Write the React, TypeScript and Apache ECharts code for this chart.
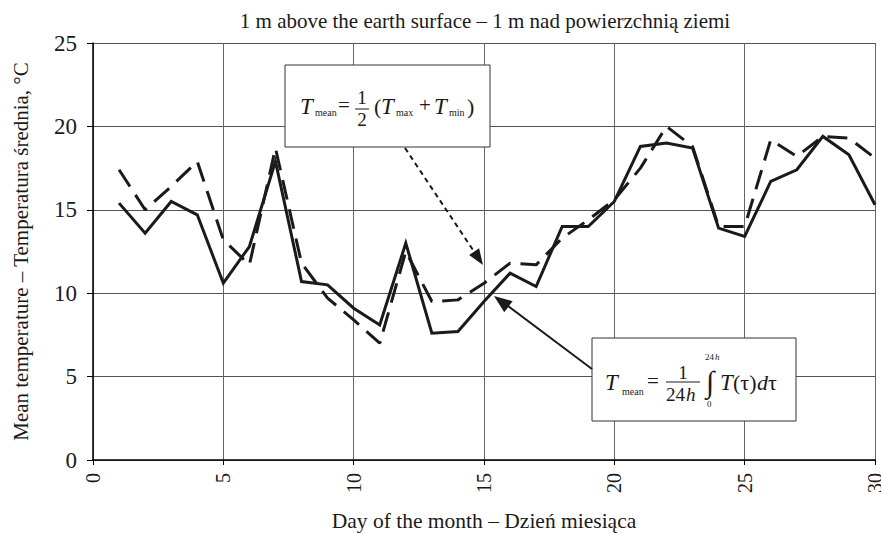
import React, { useEffect, useRef } from "react";
import * as echarts from "echarts";

const days = [1, 2, 3, 4, 5, 6, 7, 8, 9, 10, 11, 12, 13, 14, 15, 16, 17, 18, 19, 20, 21, 22, 23, 24, 25, 26, 27, 28, 29, 30];
// Solid line: T_mean = 1/24h ∫ T(τ) dτ
const meanIntegral = [15.4, 13.6, 15.5, 14.7, 10.6, 12.8, 17.9, 10.7, 10.5, 9.1, 8.1, 13.0, 7.6, 7.7, 9.5, 11.2, 10.4, 14.0, 14.0, 15.5, 18.8, 19.0, 18.7, 13.9, 13.4, 16.7, 17.4, 19.4, 18.3, 15.3];
// Dashed line: T_mean = 1/2 (T_max + T_min)
const meanMaxMin = [17.4, 15.0, 16.4, 17.9, 13.2, 11.7, 18.7, 11.8, 9.7, 8.4, 7.0, 12.5, 9.5, 9.6, 10.6, 11.8, 11.7, 13.3, 14.4, 15.6, 17.5, 20.0, 18.8, 14.0, 14.0, 19.2, 18.2, 19.4, 19.3, 18.1];

const TITLE = "1 m above the earth surface – 1 m nad powierzchnią ziemi";
const X_NAME = "Day of the month – Dzień miesiąca";
const Y_NAME = "Mean temperature – Temperatura średnia, °C";

const SERIF = '"Liberation Serif", "Times New Roman", serif';
const INK = "#1a1a1a";

function tx(x: number, y: number, text: string, size: number, italic = false, align = "left") {
  return {
    type: "text",
    x,
    y,
    z: 20,
    style: {
      text,
      fontSize: size,
      fontFamily: SERIF,
      fontStyle: italic ? "italic" : "normal",
      fill: INK,
      align,
      verticalAlign: "middle",
    },
  };
}

function arrowHead(x1: number, y1: number, x2: number, y2: number, len: number, half: number) {
  const dx = x2 - x1;
  const dy = y2 - y1;
  const d = Math.sqrt(dx * dx + dy * dy);
  const ux = dx / d;
  const uy = dy / d;
  const bx = x2 - ux * len;
  const by = y2 - uy * len;
  return [
    [x2, y2],
    [bx - uy * half, by + ux * half],
    [bx + uy * half, by - ux * half],
  ];
}

export default function App() {
  const ref = useRef<HTMLDivElement>(null);

  useEffect(() => {
    if (!ref.current) return;
    const chart = echarts.init(ref.current, null, { renderer: "svg" });

    const graphics: any[] = [
      // Box 1
      { type: "rect", z: 15, shape: { x: 285, y: 65, width: 205, height: 82 }, style: { fill: "#fff", stroke: "#333", lineWidth: 1 } },
      tx(300, 106, "T", 23, true),
      tx(315, 112, "mean", 10),
      tx(338, 105, "=", 21),
      tx(362, 97, "1", 19, false, "center"),
      { type: "line", z: 20, shape: { x1: 355, y1: 109, x2: 369, y2: 109 }, style: { stroke: INK, lineWidth: 1 } },
      tx(362, 119, "2", 19, false, "center"),
      tx(374, 106, "(", 22),
      tx(381, 106, "T", 23, true),
      tx(396, 112, "max", 10),
      tx(419, 105, "+", 21),
      tx(434, 106, "T", 23, true),
      tx(449, 112, "min", 10),
      tx(467, 106, ")", 22),
      // Box 2
      { type: "rect", z: 15, shape: { x: 592, y: 338, width: 204, height: 83 }, style: { fill: "#fff", stroke: "#333", lineWidth: 1 } },
      tx(605, 382, "T", 23, true),
      tx(622, 391, "mean", 10),
      tx(647, 381, "=", 21),
      tx(683, 372, "1", 19, false, "center"),
      { type: "line", z: 20, shape: { x1: 666, y1: 382, x2: 700, y2: 382 }, style: { stroke: INK, lineWidth: 1 } },
      tx(666, 394, "24", 19),
      tx(686, 394, "h", 19, true),
      tx(705, 357, "24", 9),
      tx(715, 357, "h", 9, true),
      tx(710, 381, "∫", 30, false, "center"),
      tx(707, 404, "0", 9),
      tx(720, 382, "T", 23, true),
      tx(733, 382, "(τ)", 22),
      tx(757, 382, "d", 22, true),
      tx(768, 382, "τ", 22),
      // Dashed arrow
      { type: "line", z: 20, shape: { x1: 405, y1: 148, x2: 477, y2: 256 }, style: { stroke: INK, lineWidth: 2, lineDash: [5, 4] } },
      { type: "polygon", z: 20, shape: { points: arrowHead(405, 148, 483, 265, 16, 6) }, style: { fill: INK } },
      // Solid arrow
      { type: "line", z: 20, shape: { x1: 592, y1: 369, x2: 500, y2: 300 }, style: { stroke: INK, lineWidth: 2 } },
      { type: "polygon", z: 20, shape: { points: arrowHead(592, 369, 494, 296, 18, 7) }, style: { fill: INK } },
    ];

    chart.setOption({
      animation: false,
      backgroundColor: "#fff",
      title: {
        text: TITLE,
        left: 480,
        top: 5,
        textAlign: "center",
        textStyle: { fontFamily: SERIF, fontSize: 21, fontWeight: "normal", color: INK },
      },
      grid: { left: 93, right: 6, top: 43, bottom: 74, containLabel: false, outerBoundsMode: "none" },
      xAxis: {
        type: "value",
        min: 0,
        max: 30,
        interval: 5,
        name: X_NAME,
        nameLocation: "middle",
        nameGap: 50,
        nameTextStyle: { fontFamily: SERIF, fontSize: 21.5, color: INK },
        axisLine: { show: true, lineStyle: { color: "#000", width: 1.5 } },
        axisTick: { show: true, inside: false, length: 5, lineStyle: { color: "#000" } },
        axisLabel: { rotate: 90, fontFamily: SERIF, fontSize: 20, color: INK, margin: 13 },
        splitLine: { show: true, lineStyle: { color: "#666", width: 1 } },
      },
      yAxis: {
        type: "value",
        min: 0,
        max: 25,
        interval: 5,
        name: Y_NAME,
        nameLocation: "middle",
        nameGap: 62,
        nameTextStyle: { fontFamily: SERIF, fontSize: 21, color: INK },
        axisLine: { show: true, lineStyle: { color: "#000", width: 1.5 } },
        axisTick: { show: true, inside: false, length: 6, lineStyle: { color: "#000" } },
        axisLabel: { fontFamily: SERIF, fontSize: 23, color: INK, margin: 16 },
        splitLine: { show: true, lineStyle: { color: "#555", width: 1 } },
      },
      series: [
        {
          name: "integral",
          type: "line",
          data: days.map((d, i) => [d, meanIntegral[i]]),
          symbol: "none",
          lineStyle: { color: INK, width: 3, type: "solid", join: "miter" },
          z: 5,
        },
        {
          name: "maxmin",
          type: "line",
          data: days.map((d, i) => [d, meanMaxMin[i]]),
          symbol: "none",
          lineStyle: { color: INK, width: 3, type: [20, 10] },
          z: 4,
        },
      ],
      graphic: graphics,
    });

    return () => chart.dispose();
  }, []);

  return <div ref={ref} style={{ width: 881, height: 534, position: "absolute", left: 0, top: 0 }} />;
}
